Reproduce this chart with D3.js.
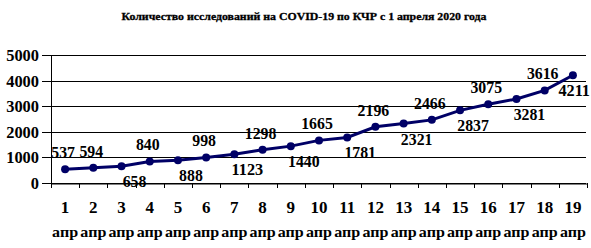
<!DOCTYPE html>
<html>
<head>
<meta charset="utf-8">
<script src="https://cdn.jsdelivr.net/npm/d3@7"></script>
<style>
  body { margin: 0; background: #fff; }
  text { font-family: "Liberation Serif", "Times New Roman", serif; font-weight: bold; fill: #000; }
</style>
</head>
<body>
<div id="chart"></div>
<script>
var title = "Количество  исследований на COVID-19 по КЧР с 1 апреля 2020 года";
var days = ["1","2","3","4","5","6","7","8","9","10","11","12","13","14","15","16","17","18","19"];
var month = "апр";
var tests = [537, 594, 658, 840, 888, 998, 1123, 1298, 1440, 1665, 1781, 2196, 2321, 2466, 2837, 3075, 3281, 3616, 4211];
var labelSide = ["up","up","down","up","down","up","down","up","down","up","down","up","down","up","down","up","down","up","down"];
var yTicks = [0, 1000, 2000, 3000, 4000, 5000];

var width = 591, height = 248;

var svg = d3.select('#chart')
  .append('svg')
  .attr('width', width)
  .attr('height', height);

svg.append('text')
  .attr('x', 304)
  .attr('y', 20)
  .attr('text-anchor', 'middle')
  .attr('font-size', 10.5)
  .attr('textLength', 365)
  .attr('lengthAdjust', 'spacingAndGlyphs')
  .style('stroke', '#000')
  .style('stroke-width', 0.3)
  .text(title);

var x = d3.scaleBand()
  .domain(days)
  .range([51, 587]);

var y = d3.scaleLinear()
  .domain([0, 5000])
  .range([183, 55]);

var cx = (d, i) => x(days[i]) + x.bandwidth() / 2;

// gridlines
svg.append('g')
  .selectAll('line')
  .data(yTicks)
  .enter().append('line')
    .attr('x1', 42)
    .attr('x2', 586)
    .attr('y1', d => Math.round(y(d)) + 0.5)
    .attr('y2', d => Math.round(y(d)) + 0.5)
    .attr('stroke', '#000')
    .attr('stroke-width', 1);

// y labels
svg.append('g')
  .selectAll('text')
  .data(yTicks)
  .enter().append('text')
    .attr('x', 39)
    .attr('y', d => y(d) + 6)
    .attr('text-anchor', 'end')
    .attr('font-size', 17)
    .attr('textLength', d => String(d).length * 8.2)
    .attr('lengthAdjust', 'spacingAndGlyphs')
    .text(d => d);

// axis lines
svg.append('line')
  .attr('x1', 51.5).attr('x2', 51.5)
  .attr('y1', y(5000)).attr('y2', y(0))
  .attr('stroke', '#000');

var gx = svg.append('g')
  .attr('transform', 'translate(0,' + (Math.round(y(0)) + 0.5) + ')')
  .call(d3.axisBottom(x).tickSize(0).tickFormat(''));
gx.select('.domain').attr('stroke', '#000');

// category tick marks on boundaries
var bounds = [x(days[0])].concat(days.map(d => x(d) + x.bandwidth()));
svg.append('g')
  .selectAll('line')
  .data(bounds)
  .enter().append('line')
    .attr('x1', d => Math.round(d) + 0.5)
    .attr('x2', d => Math.round(d) + 0.5)
    .attr('y1', Math.round(y(0)))
    .attr('y2', Math.round(y(0)) + 5)
    .attr('stroke', '#000');

// x labels
var xl = svg.append('g')
  .selectAll('g')
  .data(days)
  .enter().append('g')
    .attr('transform', d => 'translate(' + (x(d) + x.bandwidth() / 2) + ',0)');
xl.append('text')
  .attr('y', 213)
  .attr('text-anchor', 'middle')
  .attr('font-size', 17)
  .text(d => d);
xl.append('text')
  .attr('y', 237)
  .attr('text-anchor', 'middle')
  .attr('font-size', 15)
  .attr('textLength', 26)
  .attr('lengthAdjust', 'spacingAndGlyphs')
  .text(month);

var line = d3.line()
  .x(cx)
  .y(d => y(d));

svg.append('path')
  .datum(tests)
  .attr('d', line)
  .attr('fill', 'none')
  .attr('stroke', '#000066')
  .attr('stroke-width', 3);

svg.append('g')
  .selectAll('circle')
  .data(tests)
  .enter().append('circle')
    .attr('cx', cx)
    .attr('cy', d => y(d))
    .attr('r', 4)
    .attr('fill', '#000066');

// data labels, alternating above / below-right of the points
var lw = d => String(d).length * 7.9;
svg.append('g')
  .selectAll('text')
  .data(tests)
  .enter().append('text')
    .attr('x', (d, i) => Math.min(cx(d, i) + (labelSide[i] == 'up' ? -2 : 13), width - lw(d) / 2 - 1))
    .attr('y', (d, i) => labelSide[i] == 'up' ? y(d) - 11 : y(d) + 21)
    .attr('text-anchor', 'middle')
    .attr('font-size', 17)
    .attr('textLength', lw)
    .attr('lengthAdjust', 'spacingAndGlyphs')
    .text(d => d);
</script>
</body>
</html>
